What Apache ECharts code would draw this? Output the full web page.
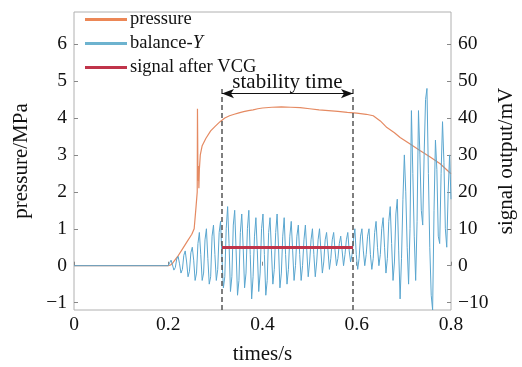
<!DOCTYPE html>
<html>
<head>
<meta charset="utf-8">
<script src="https://cdn.jsdelivr.net/npm/echarts@6/dist/echarts.min.js"></script>
<style>html,body{margin:0;padding:0;background:#fff}#c{width:522px;height:367px}</style>
</head>
<body>
<div id="c"></div>
<script>
// ---- data ----
const leftTicks = [-1, 0, 1, 2, 3, 4, 5, 6];
const rightTicks = [-10, 0, 10, 20, 30, 40, 50, 60];
const xTicks = [0, 0.2, 0.4, 0.6, 0.8];

const pressureTime = [0, 0.2, 0.205, 0.21, 0.22, 0.23, 0.24, 0.25, 0.255, 0.259, 0.2615, 0.262, 0.2625, 0.263, 0.264, 0.265, 0.266, 0.268, 0.272, 0.28, 0.29, 0.30, 0.31, 0.32, 0.33, 0.34, 0.35, 0.36, 0.37, 0.38, 0.39, 0.40, 0.42, 0.44, 0.46, 0.48, 0.50, 0.52, 0.54, 0.56, 0.58, 0.60, 0.62, 0.635, 0.65, 0.664, 0.68, 0.692, 0.71, 0.734, 0.755, 0.777, 0.80];
const pressure = [0, 0, 0.02, 0.08, 0.25, 0.45, 0.65, 0.85, 1.0, 1.6, 2.0, 4.25, 3.4, 2.3, 2.7, 2.1, 2.6, 3.0, 3.25, 3.45, 3.65, 3.78, 3.9, 4.0, 4.06, 4.1, 4.14, 4.17, 4.2, 4.22, 4.25, 4.27, 4.29, 4.3, 4.29, 4.28, 4.25, 4.22, 4.2, 4.18, 4.15, 4.13, 4.1, 4.06, 3.92, 3.74, 3.6, 3.47, 3.32, 3.12, 2.95, 2.76, 2.49];

const balanceTime = [0, 0.200, 0.203, 0.206, 0.209, 0.212, 0.215, 0.218, 0.221, 0.224, 0.227, 0.230, 0.233, 0.236, 0.239, 0.242, 0.245, 0.248, 0.251, 0.254, 0.257, 0.260,
  0.263, 0.266, 0.269, 0.272, 0.275, 0.278, 0.281, 0.284, 0.287, 0.290, 0.293, 0.296, 0.299, 0.302, 0.305, 0.308, 0.311, 0.314,
  0.317, 0.320, 0.323, 0.326, 0.329, 0.332, 0.335, 0.338, 0.341, 0.344, 0.347, 0.350, 0.353, 0.356, 0.359, 0.362, 0.365, 0.368, 0.371, 0.374, 0.377, 0.380,
  0.383, 0.386, 0.389, 0.392, 0.395, 0.398, 0.401, 0.404, 0.407, 0.410, 0.413, 0.416, 0.419, 0.422, 0.425, 0.428, 0.431, 0.434, 0.437, 0.440,
  0.443, 0.446, 0.449, 0.452, 0.455, 0.458, 0.461, 0.464, 0.467, 0.470, 0.473, 0.476, 0.479, 0.482, 0.485, 0.488, 0.491, 0.494, 0.497, 0.500,
  0.503, 0.506, 0.509, 0.512, 0.515, 0.518, 0.521, 0.524, 0.527, 0.530, 0.533, 0.536, 0.539, 0.542, 0.545, 0.548, 0.551, 0.554, 0.557, 0.560,
  0.563, 0.566, 0.569, 0.572, 0.575, 0.578, 0.581, 0.584, 0.587, 0.590, 0.593, 0.596, 0.599, 0.602, 0.605, 0.608, 0.611, 0.614, 0.617, 0.620,
  0.623, 0.626, 0.629, 0.632, 0.635, 0.638, 0.641, 0.644, 0.647, 0.650, 0.653, 0.656, 0.659, 0.662, 0.665, 0.668, 0.671, 0.674, 0.677, 0.680,
  0.683, 0.686, 0.689, 0.692, 0.695, 0.698, 0.701, 0.704, 0.707, 0.710, 0.713, 0.716, 0.719, 0.722, 0.725, 0.728, 0.731, 0.734, 0.737, 0.740,
  0.743, 0.746, 0.749, 0.752, 0.755, 0.758, 0.761, 0.764, 0.767, 0.770, 0.773, 0.776, 0.779, 0.782, 0.785, 0.788, 0.791, 0.794, 0.797, 0.800];
const balanceY = [0, 0, 0.8, 1.5, 0.2, -1.2, -0.5, 1.8, 2.5, 0.5, -2, -1, 2.8, 4, 1, -3, -1.5, 3.5, 5, 1.5, -4, -2,
  6, 9, 3, -4, -2, 7, 10, 2, -5, -3, 8, 11, 3, -4, -1, 9, 12, 2,
  -6, -3, 10, 16, 6, -7, -3, 11, 15, 4, -8, -4, 9, 14, 5, -6, -2, 10, 15, 3, -9, -3,
  8, 13, 4, -7, -2, 10, 14, 3, -8, -4, 9, 13, 4, -5, -1, 9, 14, 5, -6, -2,
  8, 13, 3, -5, -1, 8, 12, 4, -4, 0, 8, 11, 3, -4, 0, 7, 11, 4, -3, 1,
  7, 10, 3, -3, 1, 7, 10, 4, -2, 1, 7, 9, 4, -1, 2, 7, 9, 4, 0, 2,
  6, 8, 4, 0, 3, 7, 9, 4, 1, 3, 7, 10, 3, -1, 2, 8, 10, 4, 0, 3,
  8, 10, 3, -1, 2, 9, 12, 5, 0, 3, 10, 13, 5, -2, 2, 12, 16, 6, -4, 1,
  14, 18, 4, -9, 2, 18, 30, 20, 5, -5, 10, 42, 25, 8, -4, 12, 42, 30, 15, 11,
  30, 45, 48, 25, 5, -8, -12, 15, 34, 26, 8, 6, 25, 39, 28, 10, 5, 20, 30, 18];

const signalTime = [0.314, 0.592];
const signalVCG = [4.9, 4.9];

const stabilityStart = 0.314;
const stabilityEnd = 0.592;
const dashTop = 4.82;
const arrowLevel = 4.66;

// ---- chart ----
const zip = (a, b) => a.map((v, i) => [v, b[i]]);
const serif = '"Liberation Serif", "DejaVu Serif", serif';
const chart = echarts.init(document.getElementById('c'), null, {renderer: 'canvas'});

chart.setOption({
  animation: false,
  grid: {left: 74, right: 71, top: 12, bottom: 57, show: true, borderColor: '#b0b0b0', borderWidth: 1,
    outerBoundsMode: 'none', containLabel: false},
  legend: {
    orient: 'vertical', left: 80, top: 5, itemWidth: 42, itemHeight: 3, itemGap: 5,
    icon: 'rect',
    textStyle: {fontFamily: serif, fontSize: 18.5, color: '#111', padding: [0, 0, 0, -2],
      rich: {i: {fontFamily: serif, fontStyle: 'italic', fontSize: 18.5, color: '#111'}}},
    formatter: n => n === 'balance-Y' ? 'balance-{i|Y}' : n,
    data: ['pressure', 'balance-Y', 'signal after VCG']
  },
  xAxis: {
    type: 'value', min: 0, max: 0.8,
    name: 'times/s', nameLocation: 'middle', nameGap: 34, nameMoveOverlap: false,
    nameTextStyle: {fontFamily: serif, fontSize: 21, color: '#111'},
    axisLine: {show: false},
    axisTick: {show: true, inside: true, length: 4, lineStyle: {color: '#888'}, customValues: xTicks},
    axisLabel: {fontFamily: serif, fontSize: 19.5, color: '#111', margin: 5, customValues: xTicks, formatter: v => String(v)},
    splitLine: {show: false}
  },
  yAxis: [{
    type: 'value', min: -1.2, max: 6.87, position: 'left',
    name: 'pressure/MPa', nameLocation: 'middle', nameGap: 42, nameRotate: 90, nameMoveOverlap: false,
    nameTextStyle: {fontFamily: serif, fontSize: 21, color: '#111'},
    axisLine: {show: false},
    axisTick: {show: true, inside: true, length: 4, lineStyle: {color: '#888'}, customValues: leftTicks},
    axisLabel: {fontFamily: serif, fontSize: 19.5, color: '#111', margin: 7, customValues: leftTicks,
      formatter: v => v < 0 ? '\u2212' + Math.abs(v) : String(v)},
    splitLine: {show: false}
  }, {
    type: 'value', min: -12, max: 68.7, position: 'right',
    name: 'signal output/mV', nameLocation: 'middle', nameGap: 45, nameRotate: 90, nameMoveOverlap: false,
    nameTextStyle: {fontFamily: serif, fontSize: 21, color: '#111'},
    axisLine: {show: false},
    axisTick: {show: true, inside: true, length: 4, lineStyle: {color: '#888'}, customValues: rightTicks},
    axisLabel: {fontFamily: serif, fontSize: 19.5, color: '#111', margin: 7, customValues: rightTicks,
      formatter: v => v < 0 ? '\u2212' + Math.abs(v) : String(v)},
    splitLine: {show: false}
  }],
  series: [{
    name: 'pressure', type: 'line', yAxisIndex: 0, showSymbol: false, symbol: 'none',
    data: zip(pressureTime, pressure),
    itemStyle: {color: '#EC8756'},
    lineStyle: {color: '#E58A62', width: 1.2},
    markLine: {
      silent: true, symbol: 'none', animation: false,
      data: [
        [{coord: [stabilityStart, -1.2], lineStyle: {type: [5, 3], color: '#555', width: 1.5}},
         {coord: [stabilityStart, dashTop]}],
        [{coord: [stabilityEnd, -1.2], lineStyle: {type: [5, 3], color: '#555', width: 1.5}},
         {coord: [stabilityEnd, dashTop]}],
        [{coord: [stabilityStart, arrowLevel], symbol: 'arrow', symbolSize: [7, 12],
          lineStyle: {type: 'solid', color: '#111', width: 1},
          label: {show: true, position: 'insideMiddleTop', formatter: 'stability time', distance: 1,
            fontFamily: serif, fontSize: 21, color: '#111'}},
         {coord: [stabilityEnd, arrowLevel], symbol: 'arrow', symbolSize: [7, 12]}]
      ],
      label: {show: false}
    }
  }, {
    name: 'balance-Y', type: 'line', yAxisIndex: 1, showSymbol: false, symbol: 'none',
    data: zip(balanceTime, balanceY),
    itemStyle: {color: '#6DB3CF'},
    lineStyle: {color: '#5AA6CF', width: 1}
  }, {
    name: 'signal after VCG', type: 'line', yAxisIndex: 1, showSymbol: false, symbol: 'none',
    data: zip(signalTime, signalVCG),
    itemStyle: {color: '#C0344A'},
    lineStyle: {color: '#C0344A', width: 3}
  }]
});
</script>
</body>
</html>
